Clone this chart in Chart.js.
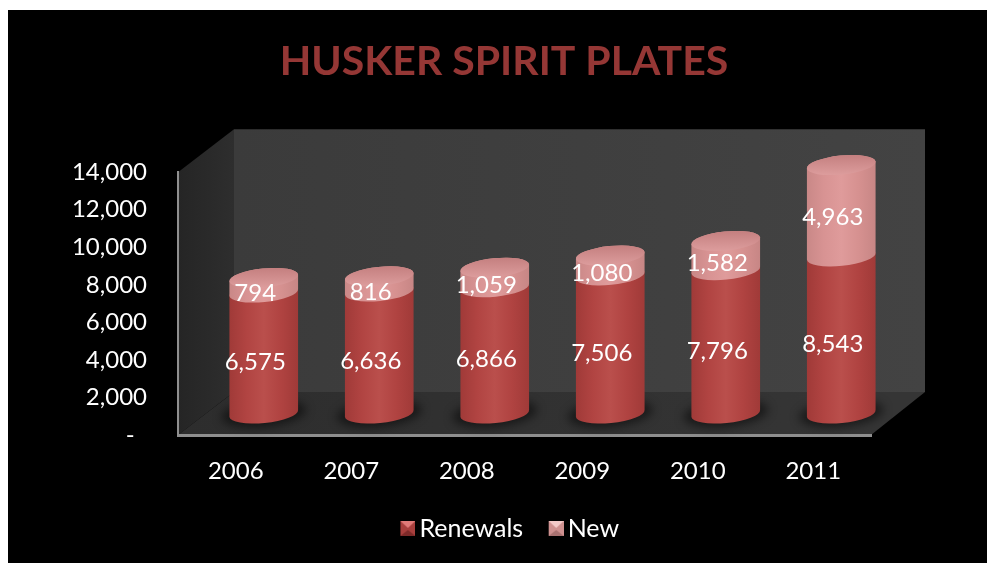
<!DOCTYPE html>
<html>
<head>
<meta charset="utf-8">
<title>Husker Spirit Plates</title>
<script src="https://cdn.jsdelivr.net/npm/chart.js@4"></script>
<style>
  html, body { margin: 0; padding: 0; background: #fff; overflow: hidden; }
  #wrap { position: absolute; left: 8px; top: 10px; width: 979px; height: 553px; background: #000; }
</style>
</head>
<body>
<div id="wrap"><canvas id="chart"></canvas></div>
<script>
// data
const years = ["2006", "2007", "2008", "2009", "2010", "2011"];
const renewals = [6575, 6636, 6866, 7506, 7796, 8543];
const newPlates = [794, 816, 1059, 1080, 1582, 4963];
const yTickLabels = ["-", "2,000", "4,000", "6,000", "8,000", "10,000", "12,000", "14,000"];

const FONT = "Lato, Carlito, 'Open Sans', sans-serif";

// depth of the fake 3d box and of the cylinders inside it
const DEPTH_X = 56, DEPTH_Y = 43;
const CYL_DX = 28, CYL_DY = 21.5, CYL_SHRINK = 0.02, CYL_RY = 9.5, CYL_TILT = -0.1;

const redStops = ["#a03a38", "#b14442", "#ba4f4c", "#b04341", "#a03a38"];
const pinkStops = ["#c98887", "#d89393", "#df9b9b", "#d69190", "#c78685"];

// the legend draws the canvas centred on a thin box, so the mark sits at its right end
function swatch(light, mid, dark) {
  const c = document.createElement("canvas");
  c.width = 21; c.height = 15;
  const g = c.getContext("2d");
  g.translate(6, 0);
  g.fillStyle = mid;
  g.fillRect(0, 0, 15, 15);
  g.fillStyle = light;
  g.beginPath(); g.moveTo(0, 0); g.lineTo(15, 0); g.lineTo(7.5, 7); g.closePath(); g.fill();
  g.fillStyle = dark;
  g.beginPath(); g.moveTo(0, 15); g.lineTo(15, 15); g.lineTo(7.5, 9); g.closePath(); g.fill();
  return c;
}
const swatches = [swatch("#e07a78", "#a83f3d", "#7d2a29"), swatch("#f3c9c8", "#cf9190", "#a87170")];

function poly(ctx, pts, fill) {
  ctx.fillStyle = fill;
  ctx.beginPath();
  pts.forEach((p, i) => i ? ctx.lineTo(p[0], p[1]) : ctx.moveTo(p[0], p[1]));
  ctx.closePath();
  ctx.fill();
}

// back wall, side wall and floor hang off the chart area
const boxPlugin = {
  id: "box",
  beforeDraw(chart) {
    const { ctx, chartArea: a } = chart;
    const bx = DEPTH_X, by = DEPTH_Y;
    const back = ctx.createLinearGradient(a.left + bx, 0, a.right + bx, 0);
    back.addColorStop(0, "#3b3b3b");
    back.addColorStop(1, "#434343");
    poly(ctx, [[a.left + bx, a.top - by], [a.right + bx - 2, a.top - by], [a.right + bx - 2, a.bottom - by], [a.left + bx, a.bottom - by]], back);
    const side = ctx.createLinearGradient(a.left, 0, a.left + bx, 0);
    side.addColorStop(0, "#252525");
    side.addColorStop(1, "#2e2e2e");
    poly(ctx, [[a.left, a.top], [a.left + bx, a.top - by], [a.left + bx, a.bottom - by], [a.left, a.bottom]], side);
    const floor = ctx.createLinearGradient(a.left, 0, a.right, 0);
    floor.addColorStop(0, "#2d2d2d");
    floor.addColorStop(1, "#353535");
    poly(ctx, [[a.left, a.bottom], [a.left + bx, a.bottom - by], [a.right + bx - 2, a.bottom - by], [a.right, a.bottom]], floor);
  }
};

// screen y of a value inside the box, a bit squeezed because of the perspective
function lift(y, area) {
  return y - CYL_DY + (area.bottom - y) * CYL_SHRINK;
}

function cylinder(ctx, bar, area, stops, hasCap) {
  const cx = bar.x + CYL_DX, rx = bar.width / 2;
  const top = lift(bar.y, area), bottom = lift(bar.base, area);
  const grad = ctx.createLinearGradient(cx - rx, 0, cx + rx, 0);
  stops.forEach((s, i) => grad.addColorStop(i / (stops.length - 1), s));
  ctx.fillStyle = grad;
  ctx.beginPath();
  ctx.ellipse(cx, bottom, rx, CYL_RY, CYL_TILT, 0, Math.PI);
  ctx.ellipse(cx, top, rx, CYL_RY, CYL_TILT, Math.PI, Math.PI * 2);
  ctx.closePath();
  ctx.fill();
  if (hasCap) {
    const cap = ctx.createLinearGradient(0, top - CYL_RY, 0, top + CYL_RY);
    cap.addColorStop(0, "#c58080");
    cap.addColorStop(1, "#dc9c9c");
    ctx.fillStyle = cap;
    ctx.beginPath();
    ctx.ellipse(cx, top, rx, CYL_RY, CYL_TILT, 0, Math.PI * 2);
    ctx.fill();
  }
}

// bars are transparent in the library, the cylinders sit on their rects
const cylinderPlugin = {
  id: "cylinders",
  afterDatasetsDraw(chart) {
    const { ctx, chartArea } = chart;
    const lower = chart.getDatasetMeta(0).data;
    const upper = chart.getDatasetMeta(1).data;
    ctx.save();
    lower.forEach(bar => {
      ctx.save();
      ctx.filter = "blur(5px)";
      ctx.fillStyle = "rgba(0,0,0,0.5)";
      ctx.beginPath();
      ctx.ellipse(bar.x + CYL_DX, lift(bar.base, chartArea), bar.width / 2 + 8, CYL_RY + 4, CYL_TILT, 0, Math.PI * 2);
      ctx.fill();
      ctx.restore();
    });
    lower.forEach((bar, i) => {
      cylinder(ctx, bar, chartArea, redStops, false);
      cylinder(ctx, upper[i], chartArea, pinkStops, true);
    });

    ctx.fillStyle = "#fff";
    ctx.font = "24px " + FONT;
    ctx.textAlign = "center";
    ctx.textBaseline = "middle";
    chart.data.datasets.forEach((ds, d) => {
      chart.getDatasetMeta(d).data.forEach((bar, i) => {
        const mid = (bar.y + bar.base) / 2;
        ctx.fillText(ds.data[i].toLocaleString("en-US"), bar.x + 19.5, mid - 11);
      });
    });
    ctx.restore();
  }
};

// title and legend are not centred on the plot in the original
const centrePlugin = {
  id: "centre",
  afterLayout(chart) {
    const place = (box, c) => { box.left = c - box.width / 2; box.right = c + box.width / 2; };
    place(chart.titleBlock, 496);
    place(chart.legend, 503);
  }
};

new Chart(document.getElementById("chart"), {
  type: "bar",
  data: {
    labels: years,
    datasets: [
      { label: "Renewals", data: renewals, backgroundColor: "rgba(0,0,0,0)", stack: "a", barThickness: 69 },
      { label: "New", data: newPlates, backgroundColor: "rgba(0,0,0,0)", stack: "a", barThickness: 69 }
    ]
  },
  options: {
    responsive: true,
    maintainAspectRatio: false,
    animation: false,
    layout: { padding: { left: 0, right: 116, top: 0, bottom: 12 } },
    plugins: {
      tooltip: { enabled: false },
      title: {
        display: true,
        text: "HUSKER SPIRIT PLATES",
        color: "#953735",
        font: { family: FONT, size: 41, weight: "bold", lineHeight: 1.2 },
        padding: { top: 27, bottom: 86 }
      },
      legend: {
        position: "bottom",
        onClick: null,
        labels: {
          color: "#fff",
          font: { family: FONT, size: 25 },
          usePointStyle: true,
          pointStyleWidth: 4,
          boxHeight: 15,
          padding: 28,
          generateLabels(chart) {
            const items = Chart.defaults.plugins.legend.labels.generateLabels(chart);
            items.forEach((it, i) => { it.pointStyle = swatches[i]; });
            return items;
          }
        }
      }
    },
    scales: {
      x: {
        stacked: true,
        grid: { display: false, drawTicks: false },
        border: { display: true, color: "#8f8f8f", width: 3 },
        ticks: { color: "#fff", font: { family: FONT, size: 24 }, padding: 22, maxRotation: 0, autoSkip: false },
        afterFit(scale) { scale.height = 53; }
      },
      y: {
        stacked: true,
        min: 0,
        max: 14000,
        grid: { display: false, drawTicks: false },
        border: { display: true, color: "#8f8f8f", width: 2 },
        ticks: {
          color: "#fff",
          font: { family: FONT, size: 24 },
          stepSize: 2000,
          padding: 31,
          callback(value) {
            const label = yTickLabels[value / 2000];
            return value === 0 ? label + "  " : label;
          }
        },
        afterFit(scale) { scale.width = 170; }
      }
    }
  },
  plugins: [boxPlugin, cylinderPlugin, centrePlugin]
});
</script>
</body>
</html>
